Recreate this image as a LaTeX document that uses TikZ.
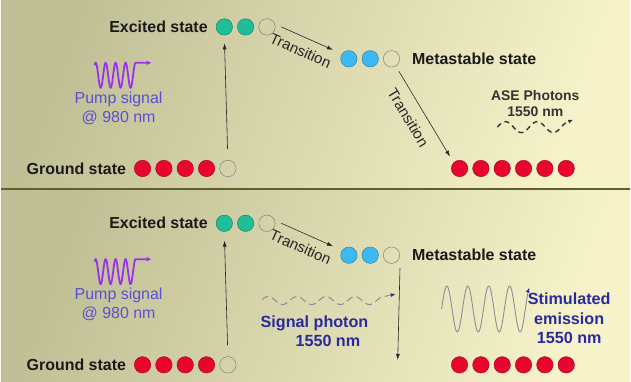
\documentclass[tikz,border=0pt]{standalone}
\usepackage{fontspec}
\setmainfont{Liberation Sans}
\usetikzlibrary{arrows.meta, positioning}

\definecolor{bgdark}{HTML}{C0BE95}
\definecolor{bglight}{HTML}{F6F3CB}
\definecolor{rulecol}{HTML}{5E5E2E}
\definecolor{atomred}{HTML}{E8062E}
\definecolor{atomgreen}{HTML}{1DBE98}
\definecolor{atomblue}{HTML}{3CB9F0}
\definecolor{pumpviolet}{HTML}{9B30F0}
\definecolor{pumpblue}{HTML}{5A50D0}
\definecolor{sigblue}{HTML}{2A2A9C}
\definecolor{wavegray}{HTML}{8C8C9A}

\begin{document}
\begin{tikzpicture}[
    x=1pt, y=-1pt,
    node distance=4.5pt,
    level/.style={font=\bfseries\fontsize{16}{18}\selectfont, text=black!90, inner sep=2pt},
    ion/.style={circle, draw=#1!65!black, fill=#1, minimum size=16.5pt, inner sep=0pt},
    hole/.style={circle, draw=black!55, minimum size=16.5pt, inner sep=0pt},
    arrow/.style={line width=0.6pt, black!85, -{Latex[length=6pt, width=4pt]}},
    trans/.style={sloped, font=\fontsize{15}{16}\selectfont, inner sep=1pt},
    pumplbl/.style={align=center, text=pumpblue, font=\fontsize{16}{19}\selectfont},
    pumpwave/.style={line width=1.8pt, pumpviolet, -{Latex[length=5pt, width=5pt]}},
    photonlbl/.style={align=center, text=sigblue, font=\bfseries\fontsize{16.2}{19.5}\selectfont}
]

% background, two panels
\shade [left color=bgdark, right color=bglight, shading angle=70] (0,0) rectangle (631,190);
\shade [left color=bgdark, right color=bglight, shading angle=70] (0,190) rectangle (631,383);
\draw [line width=2pt, rulecol] (0,190) -- (631,190);
\useasboundingbox (0,0) rectangle (631,383);

% ---- upper panel: spontaneous emission
\node (ex1) [ion=atomgreen] at (224,27) {};
\node (ex2) [ion=atomgreen, right=of ex1] {};
\node (ex3) [hole, right=of ex2] {};
\node (excited) [level, left=6pt of ex1] {Excited state};

\node (gr1) [ion=atomred] at (142,169) {};
\node (gr2) [ion=atomred, right=of gr1] {};
\node (gr3) [ion=atomred, right=of gr2] {};
\node (gr4) [ion=atomred, right=of gr3] {};
\node (gr5) [hole, right=of gr4] {};
\node (ground) [level, left=6pt of gr1] {Ground state};

\node (ms1) [ion=atomblue] at (349,59) {};
\node (ms2) [ion=atomblue, right=of ms1] {};
\node (ms3) [hole, right=of ms2] {};
\node (meta) [level, right=10pt of ms3] {Metastable state};

\node (lo1) [ion=atomred] at (460,169) {};
\node (lo2) [ion=atomred, right=of lo1] {};
\node (lo3) [ion=atomred, right=of lo2] {};
\node (lo4) [ion=atomred, right=of lo3] {};
\node (lo5) [ion=atomred, right=of lo4] {};
\node (lo6) [ion=atomred, right=of lo5] {};

\node (pump) [pumplbl] at (118,108.5) {Pump signal\\@ 980 nm};
\node (ase) [align=center, text=black!80, font=\bfseries\fontsize{14}{16}\selectfont] at (536,104) {ASE Photons\\1550 nm};

\draw [pumpwave] plot[domain=94:135, samples=161, smooth] (\x, {75.5-12.5*cos(36*(\x-95))}) -- (151,63);
\draw [line width=1.4pt, black!80, dash pattern=on 5pt off 4pt, -{Latex[length=5pt, width=4pt]}]
    plot[domain=498:566, samples=80, smooth] (\x, {127.5-5.5*cos(11.25*(\x-506))}) -- (574,120);

\draw [arrow, shorten <=11pt, shorten >=8pt] (gr5.north) -- (ex1.south);
\draw [arrow] ([xshift=6pt]ex3.east) -- node[trans, pos=0.48, below=7pt] {Transition} ([xshift=-10pt, yshift=3pt]ms1.north west);
\draw [arrow, shorten <=6pt, shorten >=7pt] (ms3.-60) -- node[trans, pos=0.45, below=9pt] {Transition} (lo1.135);

% ---- lower panel: stimulated emission
\node (exb1) [ion=atomgreen] at (224,224) {};
\node (exb2) [ion=atomgreen, right=of exb1] {};
\node (exb3) [hole, right=of exb2] {};
\node (excitedb) [level, left=6pt of exb1] {Excited state};

\node (grb1) [ion=atomred] at (142,366) {};
\node (grb2) [ion=atomred, right=of grb1] {};
\node (grb3) [ion=atomred, right=of grb2] {};
\node (grb4) [ion=atomred, right=of grb3] {};
\node (grb5) [hole, right=of grb4] {};
\node (groundb) [level, left=6pt of grb1] {Ground state};

\node (msb1) [ion=atomblue] at (349,256) {};
\node (msb2) [ion=atomblue, right=of msb1] {};
\node (msb3) [hole, right=of msb2] {};
\node (metab) [level, right=10pt of msb3] {Metastable state};

\node (lob1) [ion=atomred] at (460,366) {};
\node (lob2) [ion=atomred, right=of lob1] {};
\node (lob3) [ion=atomred, right=of lob2] {};
\node (lob4) [ion=atomred, right=of lob3] {};
\node (lob5) [ion=atomred, right=of lob4] {};
\node (lob6) [ion=atomred, right=of lob5] {};

\node (pumpb) [pumplbl] at (118,305.5) {Pump signal\\@ 980 nm};
\node (signal) [photonlbl, align=left, anchor=west] at (257,332.5) {Signal photon\\\hspace*{35pt}1550 nm};
\node (stim) [photonlbl] at (570,319.5) {Stimulated\\emission\\1550 nm};

\draw [pumpwave] plot[domain=94:135, samples=161, smooth] (\x, {272.5-12.5*cos(36*(\x-95))}) -- (151,260);
\draw [line width=1pt, wavegray, dash pattern=on 7pt off 4pt, -{Latex[length=5pt, width=4pt, color=sigblue]}]
    plot[domain=262:384, samples=120, smooth] (\x, {301.5-4*cos(12.414*(\x-268))}) -- (396,295);
\draw [line width=0.9pt, wavegray, -{Latex[length=5pt, width=4pt, color=sigblue]}]
    plot[domain=442:530, samples=240, smooth] (\x, {310-23*sin(17.143*(\x-442))});

\coordinate (fall) at (398,361);
\draw [arrow, shorten <=11pt, shorten >=9pt] (grb5.north) -- (exb1.south);
\draw [arrow] ([xshift=6pt]exb3.east) -- node[trans, pos=0.48, below=7pt] {Transition} ([xshift=-10pt, yshift=3pt]msb1.north west);
\draw [arrow] ([yshift=-13pt]msb3.east) -- (fall);

\end{tikzpicture}
\end{document}
